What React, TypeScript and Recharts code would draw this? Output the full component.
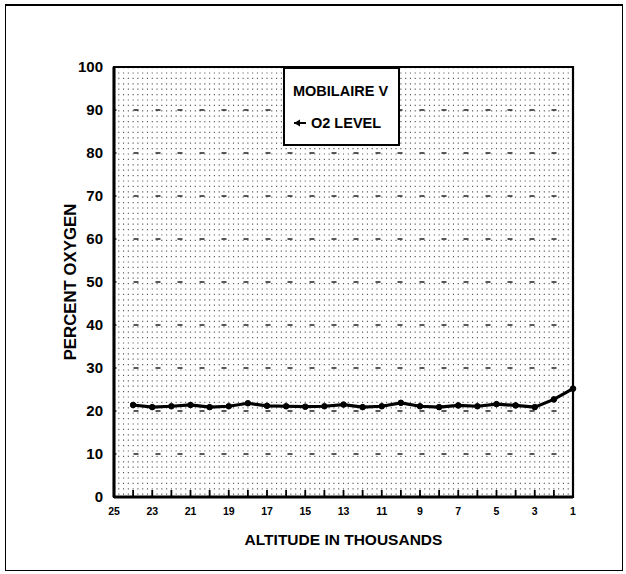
import React from "react";
import {
  LineChart,
  Line,
  XAxis,
  YAxis,
  CartesianGrid,
  Legend,
  ReferenceArea,
} from "recharts";

// ---- data ----
const altitudes = [24, 23, 22, 21, 20, 19, 18, 17, 16, 15, 14, 13, 12, 11, 10, 9, 8, 7, 6, 5, 4, 3, 2, 1];
const o2Level = [21.4, 20.9, 21.1, 21.4, 20.9, 21.1, 21.8, 21.2, 21.1, 21.0, 21.1, 21.5, 20.9, 21.1, 21.9, 21.1, 20.9, 21.3, 21.1, 21.6, 21.3, 20.9, 22.7, 25.2];
const xTicks = [25, 24, 23, 22, 21, 20, 19, 18, 17, 16, 15, 14, 13, 12, 11, 10, 9, 8, 7, 6, 5, 4, 3, 2, 1];
const xLabelTicks = [25, 23, 21, 19, 17, 15, 13, 11, 9, 7, 5, 3, 1];
const yTicks = [0, 10, 20, 30, 40, 50, 60, 70, 80, 90, 100];
const seriesName = "O2 LEVEL";
const legendTitle = "MOBILAIRE V";
const xTitle = "ALTITUDE IN THOUSANDS";
const yTitle = "PERCENT OXYGEN";

const data = altitudes.map((a, i) => ({ alt: a, o2: o2Level[i] }));

// minor dotted grid columns (every quarter thousand)
const minorX: number[] = [];
for (let v = 1; v <= 25.0001; v += 0.25) minorX.push(v);

const FONT = '"Liberation Sans", Arial, sans-serif';

const XTick = (props: any) => {
  const { x, y, payload } = props;
  const v = payload.value;
  const showLabel = xLabelTicks.includes(v);
  return (
    <g>
      <line x1={x} y1={y} x2={x} y2={y - 7} stroke="#000" strokeWidth={1.8} />
      {showLabel && (
        <text
          x={x}
          y={y + 18}
          textAnchor="middle"
          fontFamily={FONT}
          fontWeight="bold"
          fontSize={10.5}
          fill="#000"
        >
          {v}
        </text>
      )}
    </g>
  );
};

const YLabel = (props: any) => {
  const vb = props.viewBox || {};
  const cx = 70;
  const cy = (vb.y ?? 0) + (vb.height ?? 0) / 2;
  return (
    <text
      x={cx}
      y={cy}
      transform={`rotate(-90, ${cx}, ${cy})`}
      textAnchor="middle"
      dominantBaseline="central"
      fontFamily={FONT}
      fontWeight="bold"
      fontSize={16.8}
      fill="#000"
    >
      {yTitle}
    </text>
  );
};

const XLabel = (props: any) => {
  const vb = props.viewBox || {};
  const cx = (vb.x ?? 0) + (vb.width ?? 0) / 2;
  const cy = (vb.y ?? 0) + 42;
  return (
    <text
      x={cx}
      y={cy}
      textAnchor="middle"
      dominantBaseline="central"
      fontFamily={FONT}
      fontWeight="bold"
      fontSize={15.5}
      fill="#000"
    >
      {xTitle}
    </text>
  );
};

const LegendBox = () => (
  <div
    style={{
      width: 117,
      height: 79,
      boxSizing: "border-box",
      border: "2.5px solid #000",
      background: "#fff",
      fontFamily: FONT,
      fontWeight: "bold",
      fontSize: 14.5,
      color: "#000",
      position: "relative",
    }}
  >
    <div style={{ position: "absolute", left: 8, top: 14, whiteSpace: "nowrap" }}>{legendTitle}</div>
    <div style={{ position: "absolute", left: 8, top: 46, whiteSpace: "nowrap", display: "flex", alignItems: "center" }}>
      <svg width={14} height={10} style={{ marginRight: 4 }}>
        <line x1={1} y1={5} x2={13} y2={5} stroke="#000" strokeWidth={2} />
        <polygon points="1,5 7,1.5 7,8.5" fill="#000" />
      </svg>
      <span>{seriesName}</span>
    </div>
  </div>
);

export default function App() {
  const minorGen = (args: any) => {
    const xa = args && args.xAxis;
    if (xa && typeof xa.scale === "function") {
      return minorX.map((v) => xa.scale(v));
    }
    const off = args.offset;
    return minorX.map((v) => off.left + ((25 - v) / 24) * off.width);
  };

  return (
    <div style={{ position: "absolute", left: 0, top: 0, width: 626, height: 574, background: "#fff" }}>
      <div
        style={{
          position: "absolute",
          left: 5,
          top: 4,
          width: 618,
          height: 567,
          boxSizing: "border-box",
          borderTop: "2px solid #000",
          borderLeft: "1.5px solid #000",
          borderRight: "1.5px solid #000",
          borderBottom: "1px solid #000",
        }}
      />
      <LineChart
        width={626}
        height={574}
        data={data}
        margin={{ top: 67, right: 53, bottom: 27, left: 0 }}
        style={{ position: "absolute", left: 0, top: 0 }}
      >
        <CartesianGrid
          horizontal={false}
          vertical={true}
          verticalCoordinatesGenerator={minorGen}
          stroke="#555"
          strokeWidth={1.1}
          strokeDasharray="1.2 4.2"
        />
        <CartesianGrid
          horizontal={true}
          vertical={false}
          stroke="#222"
          strokeWidth={1.6}
          strokeDasharray="5 17"
          strokeDashoffset={2.5}
        />
        <XAxis
          dataKey="alt"
          type="number"
          domain={[1, 25]}
          reversed
          ticks={xTicks}
          interval={0}
          tickLine={false}
          tickSize={0}
          tickMargin={0}
          tick={<XTick />}
          height={50}
          axisLine={{ stroke: "#000", strokeWidth: 3 }}
          label={<XLabel />}
        />
        <YAxis
          type="number"
          domain={[0, 100]}
          ticks={yTicks}
          interval={0}
          width={114}
          tickLine={false}
          tickMargin={5}
          axisLine={{ stroke: "#000", strokeWidth: 3 }}
          tick={{ fill: "#000", fontSize: 15, fontWeight: "bold", fontFamily: FONT }}
          label={<YLabel />}
        />
        <ReferenceArea
          x1={25}
          x2={1}
          y1={0}
          y2={100}
          fill="none"
          fillOpacity={0}
          stroke="#000"
          strokeWidth={2.2}
          ifOverflow="visible"
        />
        <Line
          type="linear"
          dataKey="o2"
          name={seriesName}
          stroke="#000"
          strokeWidth={3.2}
          dot={{ r: 2.8, fill: "#000", stroke: "#000", strokeWidth: 1 }}
          isAnimationActive={false}
        />
        <Legend
          layout="horizontal"
          verticalAlign="middle"
          align="center"
          content={<LegendBox />}
          wrapperStyle={{ position: "absolute", left: 283, top: 67, width: 117, height: 79 }}
        />
      </LineChart>
    </div>
  );
}
